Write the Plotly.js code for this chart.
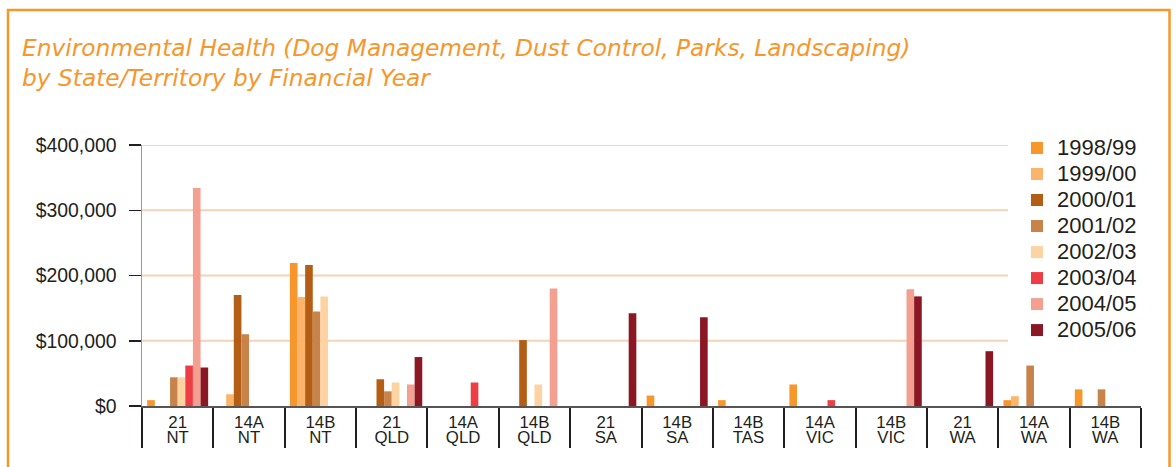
<!DOCTYPE html>
<html>
<head>
<meta charset="utf-8">
<script src="https://cdn.plot.ly/plotly-3.0.1.min.js"></script>
<style>
  html, body { margin: 0; padding: 0; background: #ffffff; }
  #chart { width: 1176px; height: 467px; }
</style>
</head>
<body>
<div id="chart"></div>
<script>
// ---- data ----
const codes  = ['21', '14A', '14B', '21', '14A', '14B', '21', '14B', '14B', '14A', '14B', '21', '14A', '14B'];
const states = ['NT', 'NT', 'NT', 'QLD', 'QLD', 'QLD', 'SA', 'SA', 'TAS', 'VIC', 'VIC', 'WA', 'WA', 'WA'];
const years  = ['1998/99', '1999/00', '2000/01', '2001/02', '2002/03', '2003/04', '2004/05', '2005/06'];

const v1998_99 = [9000, 0, 219000, 0, 0, 0, 0, 16000, 9000, 33000, 0, 0, 9000, 25500];
const v1999_00 = [0, 18000, 167000, 0, 0, 0, 0, 0, 0, 0, 0, 0, 15000, 0];
const v2000_01 = [0, 170000, 216000, 41000, 0, 101000, 0, 0, 0, 0, 0, 0, 0, 0];
const v2001_02 = [44000, 110000, 145000, 22500, 0, 0, 0, 0, 0, 0, 0, 0, 62000, 25500];
const v2002_03 = [44000, 0, 168000, 36000, 0, 33000, 0, 0, 0, 0, 0, 0, 0, 0];
const v2003_04 = [62000, 0, 0, 0, 36000, 0, 0, 0, 0, 9000, 0, 0, 0, 0];
const v2004_05 = [334000, 0, 0, 33000, 0, 180000, 0, 0, 0, 0, 179000, 0, 0, 0];
const v2005_06 = [59000, 0, 0, 75000, 0, 0, 142000, 136000, 0, 0, 168000, 84000, 0, 0];

const yTicks = [0, 100000, 200000, 300000, 400000];
const yTickText = ['$0', '$100,000', '$200,000', '$300,000', '$400,000'];
const gridTicks = [100000, 200000, 300000, 400000];

const seriesValues = [v1998_99, v1999_00, v2000_01, v2001_02, v2002_03, v2003_04, v2004_05, v2005_06];
const colors = ['#F7962B', '#FBB46A', '#B35E14', '#C8834A', '#FDD3A2', '#EE3E45', '#F4A091', '#8B1624'];

const categories = codes.map((c, i) => c + ' ' + states[i]);

// ---- traces ----
const traces = seriesValues.map((vals, i) => ({
  type: 'bar',
  x: categories,
  y: vals,
  name: '<span style="font-size:22px">' + years[i] + '</span>',
  marker: { color: colors[i], line: { width: 0 } },
  xaxis: 'x',
  yaxis: 'y',
  hoverinfo: 'x+y'
}));
// invisible helper trace carrying the categories for the second label row
traces.push({
  type: 'scatter',
  mode: 'none',
  x: categories,
  y: categories.map(() => 0),
  xaxis: 'x2',
  yaxis: 'y',
  showlegend: false,
  hoverinfo: 'skip'
});

// ---- pixel helpers for frame/grid shapes ----
const L = 142, R = 35, T = 145, B = 61, W = 1176, H = 467;
const pw = W - L - R, ph = H - T - B;
const px2paperX = px => (px - L) / pw;
const py2paperY = py => (H - B - py) / ph;

const shapes = gridTicks.map(v => ({
  type: 'line', layer: 'below',
  xref: 'paper', yref: 'y',
  x0: 0, x1: px2paperX(1008), y0: v, y1: v,
  line: { color: '#F5D3B6', width: 2 }
}));
shapes.push({
  type: 'rect', layer: 'above',
  xref: 'paper', yref: 'paper',
  x0: px2paperX(8), x1: px2paperX(1169.5),
  y0: py2paperY(520), y1: py2paperY(10),
  line: { color: '#F7962B', width: 2.5 },
  fillcolor: 'rgba(0,0,0,0)'
});

const axisFontNarrow = { family: 'Liberation Sans Narrow, Arial Narrow, sans-serif', size: 16.8, color: '#231F20' };

const layout = {
  width: W, height: H,
  paper_bgcolor: '#ffffff',
  plot_bgcolor: '#ffffff',
  margin: { l: L, r: R, t: T, b: B, pad: 0 },
  title: {
    text: 'Environmental Health (Dog Management, Dust Control, Parks, Landscaping)<br>by State/Territory by Financial Year',
    font: { family: 'DejaVu Sans, sans-serif', size: 23.3, color: '#F7962B', style: 'italic' },
    x: 22 / W, xref: 'container', xanchor: 'left',
    y: 1 - 56 / H, yref: 'container', yanchor: 'top'
  },
  barmode: 'group',
  bargap: 0.145,
  bargroupgap: 0,
  showlegend: true,
  legend: {
    x: px2paperX(1017), xanchor: 'left',
    y: py2paperY(130), yanchor: 'top',
    font: { family: 'Liberation Sans Narrow, Arial Narrow, sans-serif', size: 17.7, color: '#231F20' },
    bgcolor: 'rgba(0,0,0,0)',
    borderwidth: 0,
    traceorder: 'normal'
  },
  xaxis: {
    type: 'category',
    categoryorder: 'array', categoryarray: categories,
    range: [-0.5, categories.length - 0.5],
    tickmode: 'array', tickvals: categories, ticktext: codes,
    tickson: 'boundaries',
    ticks: 'outside', ticklen: 40, tickwidth: 2, tickcolor: '#231F20',
    ticklabelstandoff: 0,
    tickfont: axisFontNarrow,
    showline: true, linecolor: '#555555', linewidth: 2,
    showgrid: false, zeroline: false,
    fixedrange: true
  },
  xaxis2: {
    type: 'category',
    overlaying: 'x', anchor: 'y', side: 'bottom',
    categoryorder: 'array', categoryarray: categories,
    range: [-0.5, categories.length - 0.5],
    tickmode: 'array', tickvals: categories, ticktext: states,
    ticks: '',
    ticklabelstandoff: 19,
    tickfont: axisFontNarrow,
    showline: false, showgrid: false, zeroline: false,
    fixedrange: true
  },
  yaxis: {
    range: [0, 400000],
    tickmode: 'array', tickvals: yTicks, ticktext: yTickText,
    ticks: 'outside', ticklen: 12, tickwidth: 1.5, tickcolor: '#231F20',
    ticklabelstandoff: 8,
    tickfont: { family: 'Liberation Sans, Arial, sans-serif', size: 19.4, color: '#231F20' },
    showline: true, linecolor: '#9A9A9A', linewidth: 1.5,
    showgrid: false, zeroline: false,
    fixedrange: true
  },
  shapes: shapes
};

Plotly.newPlot('chart', traces, layout, { displayModeBar: false, staticPlot: true });
</script>
</body>
</html>
